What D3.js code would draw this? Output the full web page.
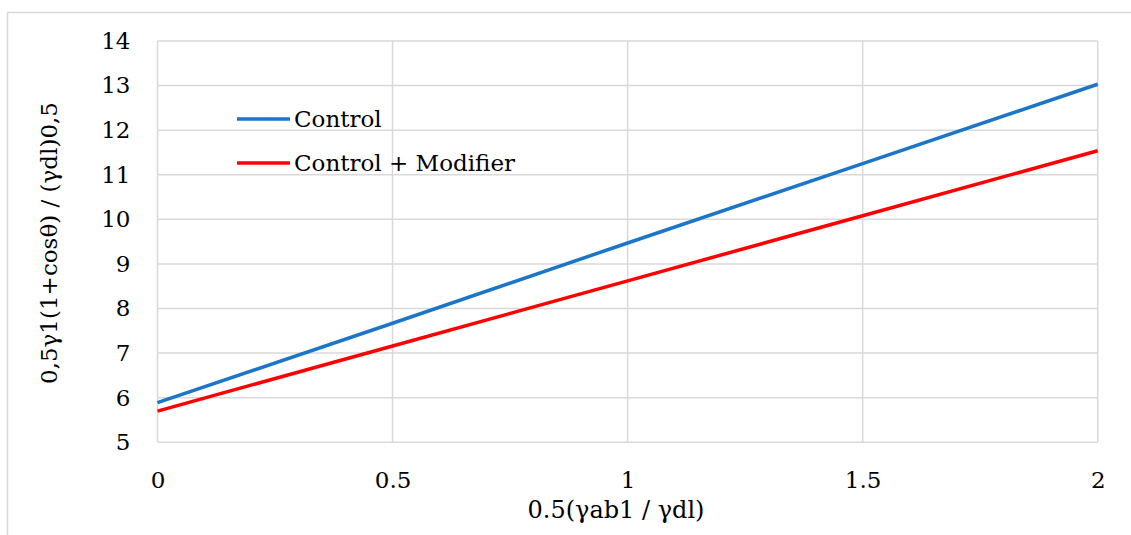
<!DOCTYPE html>
<html lang="en">
<head>
    <meta charset="UTF-8">
    <title>Control vs Control + Modifier</title>
    <script src="https://d3js.org/d3.v7.min.js"></script>
    <style>
        body {
            margin: 0;
            background-color: #ffffff;
        }
        .grid-line {
            stroke: #d9d9d9;
            stroke-width: 1.5;
        }
        .series {
            fill: none;
            stroke-width: 3.5;
        }
    </style>
</head>
<body>

<svg id="chart" width="1131" height="535"></svg>

<script>
    // Daten
    const xValues = [0, 0.5, 1, 1.5, 2];
    const controlValues = [5.89, 7.67, 9.47, 11.25, 13.03];
    const modifierValues = [5.70, 7.16, 8.62, 10.08, 11.54];
    const seriesNames = ["Control", "Control + Modifier"];
    const seriesColors = ["#1b75c8", "#ff0000"];
    const xTicks = [0, 0.5, 1, 1.5, 2];
    const yTicks = [5, 6, 7, 8, 9, 10, 11, 12, 13, 14];

    const FONT = "'DejaVu Serif', serif";
    const FS = 23;

    const svg = d3.select("#chart");

    // Rahmen
    svg.append("rect")
        .attr("x", 7.5)
        .attr("y", 12.5)
        .attr("width", 1130)
        .attr("height", 600)
        .attr("fill", "none")
        .attr("stroke", "#d9d9d9")
        .attr("stroke-width", 1.5);

    const plot = { left: 157.5, right: 1097.7, top: 41, bottom: 442.3 };

    const x = d3.scaleLinear().domain([0, 2]).range([plot.left, plot.right]);
    const y = d3.scaleLinear().domain([5, 14]).range([plot.bottom, plot.top]);

    // Gitterlinien
    svg.append("g")
        .selectAll("line")
        .data(yTicks)
        .join("line")
        .attr("class", "grid-line")
        .attr("x1", plot.left)
        .attr("x2", plot.right)
        .attr("y1", d => y(d))
        .attr("y2", d => y(d));

    svg.append("g")
        .selectAll("line")
        .data(xTicks)
        .join("line")
        .attr("class", "grid-line")
        .attr("x1", d => x(d))
        .attr("x2", d => x(d))
        .attr("y1", plot.top)
        .attr("y2", plot.bottom);

    // Achsen (nur Beschriftung)
    const yAxis = svg.append("g")
        .attr("transform", `translate(${plot.left},0)`)
        .call(d3.axisLeft(y).tickValues(yTicks).tickSize(0).tickPadding(27).tickFormat(d3.format("d")));
    const xAxis = svg.append("g")
        .attr("transform", `translate(0,${plot.bottom})`)
        .call(d3.axisBottom(x).tickValues(xTicks).tickSize(0).tickPadding(29).tickFormat(d => String(d)));
    [yAxis, xAxis].forEach(a => {
        a.select(".domain").remove();
        a.attr("font-family", FONT).attr("font-size", FS);
        a.selectAll("text").attr("fill", "#000");
    });

    // Linien
    const line = d3.line().x(d => x(d[0])).y(d => y(d[1]));
    [controlValues, modifierValues].forEach((vals, i) => {
        svg.append("path")
            .datum(xValues.map((xv, j) => [xv, vals[j]]))
            .attr("class", "series")
            .attr("stroke", seriesColors[i])
            .attr("d", line);
    });

    // Legende
    const legend = svg.append("g").attr("transform", "translate(237,119)");
    seriesNames.forEach((name, i) => {
        const g = legend.append("g").attr("transform", `translate(0,${i * 44})`);
        g.append("line")
            .attr("x1", 0).attr("x2", 53)
            .attr("y1", 0).attr("y2", 0)
            .attr("stroke", seriesColors[i])
            .attr("stroke-width", 3.5);
        g.append("text")
            .attr("x", 57)
            .attr("y", 8)
            .attr("font-family", FONT)
            .attr("font-size", FS)
            .text(name);
    });

    // Achsentitel
    svg.append("text")
        .attr("x", 616)
        .attr("y", 518)
        .attr("text-anchor", "middle")
        .attr("font-family", FONT)
        .attr("font-size", 24)
        .text("0.5(γab1 / γdl)");

    svg.append("text")
        .attr("transform", "translate(57,243) rotate(-90)")
        .attr("text-anchor", "middle")
        .attr("font-family", FONT)
        .attr("font-size", FS)
        .text("0,5γ1(1+cosθ) / (γdl)0,5");
</script>

</body>
</html>
